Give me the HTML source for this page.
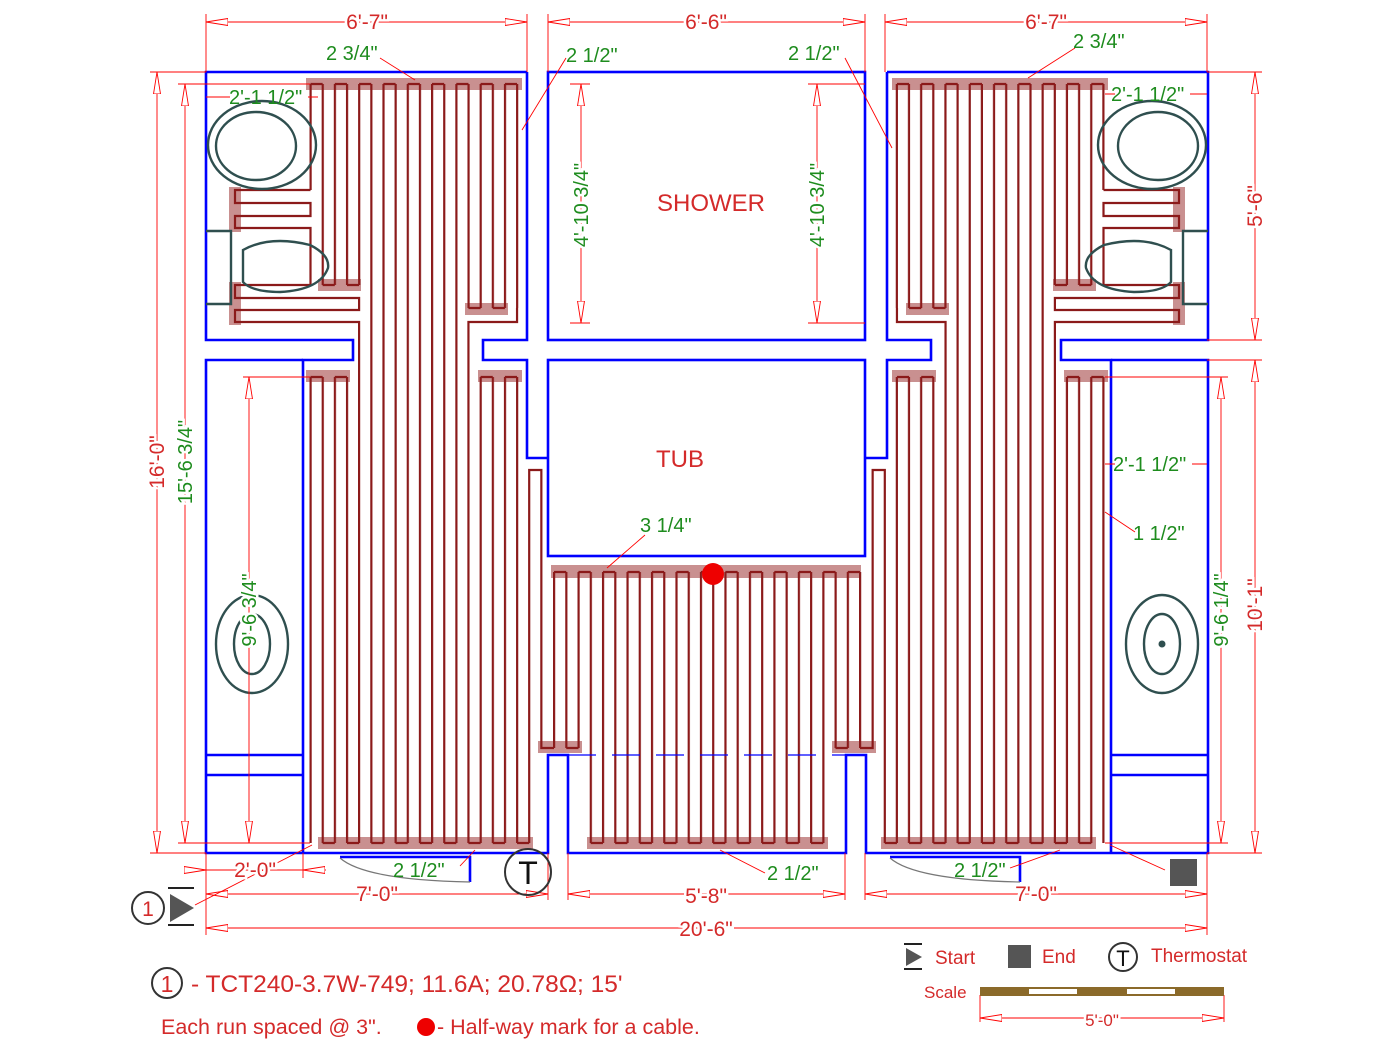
<!DOCTYPE html>
<html><head><meta charset="utf-8"><style>
html,body{margin:0;padding:0;background:#fff;width:1400px;height:1049px;overflow:hidden}
svg{display:block}
text{font-family:"Liberation Sans",sans-serif}
.r{fill:#d42a2a;font-size:21px}
.g{fill:#1e8c1e;font-size:20px}
.bg{stroke:#fff;stroke-width:5px;paint-order:stroke}
</style></head><body>
<svg width="1400" height="1049" viewBox="0 0 1400 1049" xmlns="http://www.w3.org/2000/svg">
<defs>
<marker id="a" viewBox="0 0 22 8" refX="22" refY="4" markerWidth="22" markerHeight="8" markerUnits="userSpaceOnUse" orient="auto-start-reverse"><path d="M22,4 L0,0.5 L0,7.5 Z" fill="#fff" stroke="#f00" stroke-width="0.9"/></marker>
<pattern id="pL" x="309.5" y="0" width="12.15" height="10" patternUnits="userSpaceOnUse"><rect x="0" y="0" width="2.2" height="10" fill="#8b1a1a"/></pattern>
<pattern id="pC" x="553" y="0" width="12.24" height="10" patternUnits="userSpaceOnUse"><rect x="0" y="0" width="2.2" height="10" fill="#8b1a1a"/></pattern>
</defs>
<g id="half">
 <g fill="#c99090">
  <rect x="306" y="78" width="216" height="12"/>
  <rect x="229" y="187" width="12" height="45"/>
  <rect x="229" y="282" width="12" height="43"/>
  <rect x="318" y="279" width="43" height="12"/>
  <rect x="465" y="303" width="43" height="12"/>
  <rect x="306" y="370" width="44" height="12"/>
  <rect x="478" y="370" width="44" height="12"/>
  <rect x="318" y="837" width="215" height="12"/>
  <rect x="538" y="741" width="44" height="12"/>
 </g>
 <g fill="url(#pL)">
  <rect x="309" y="84" width="212" height="106"/>
  <rect x="320" y="190" width="201" height="95"/>
  <rect x="369" y="285" width="152" height="23"/>
  <rect x="369" y="308" width="90" height="535"/>
  <rect x="309" y="377" width="40" height="466"/>
  <rect x="479" y="377" width="42" height="466"/>
 </g>
 <g fill="none" stroke="#8b1a1a" stroke-width="2.2">
  <path d="M310.5,84 H517.05" stroke-dasharray="12.15 12.15"/>
  <path d="M322.65,285 H334.8 M346.95,285 H359.1 M468.45,308 H480.6 M492.75,308 H504.9"/>
  <path d="M310.5,190 H235 V203 H310.5 V216 H235 V228 H310.5 V285 H235 V298 H359.1 V310 H235 V322 H359.1 V843"/>
  <path d="M517.05,308 V322 H468.45 V843"/>
  <path d="M310.5,377 H322.65 M334.8,377 H346.95 M480.6,377 H492.75 M504.9,377 H517.05"/>
  <path d="M529.2,843 V470 H541.35 V748 H554"/>
  <path d="M322.65,843 H529.2" stroke-dasharray="12.15 12.15"/>
 </g>
 <g fill="none" stroke="#0000ff" stroke-width="2.6">
  <path d="M527,72 H206 V340 H353 V360 H303 V853"/>
  <path d="M303,360 H206 V853 H548 V755 H568 V853 H707"/>
  <path d="M206,755 H303 M206,775 H303"/>
  <path d="M527,72 V340 H483 V360 H527 V458 H548"/>
 </g>
 <g fill="none" stroke="#2f4f4f" stroke-width="2.4">
  <ellipse cx="262" cy="145" rx="54" ry="44"/>
  <ellipse cx="256" cy="146" rx="40" ry="34"/>
  <path d="M206,231 H231 V304 H206"/>
  <path d="M243,250 Q270,235 310,245 Q330,255 328,268 Q320,290 280,292 Q252,292 243,282 Z"/>
  <ellipse cx="252" cy="644" rx="36" ry="49"/>
  <ellipse cx="252" cy="644" rx="18" ry="30"/>
 </g>
 <circle cx="252" cy="644" r="3.5" fill="#2f4f4f"/>
</g>
<use href="#half" transform="matrix(-1 0 0 1 1414 0)"/>

<g fill="#c99090">
 <rect x="551" y="565" width="310" height="13"/>
 <rect x="587" y="837" width="241" height="12"/>
</g>
<g fill="url(#pC)">
 <rect x="552" y="572" width="310" height="176"/>
 <rect x="588" y="748" width="237" height="95"/>
</g>
<g fill="none" stroke="#8b1a1a" stroke-width="2.2">
 <path d="M554,572 H860" stroke-dasharray="12.24 12.24"/>
 <path d="M566.24,748 H578.5 M835.5,748 H847.8"/>
 <path d="M590.7,843 H823.3" stroke-dasharray="12.24 12.24"/>
</g>
<g fill="none" stroke="#0000ff" stroke-width="2.6">
 <rect x="548" y="72" width="317" height="268"/>
 <rect x="548" y="360" width="317" height="196"/>
 <path d="M568,755 H845" stroke-dasharray="28 16" stroke-width="1.2"/>
 <path d="M340,857 H470 V882 M890,857 H1020 V882"/>
</g>
<path d="M340,858 Q365,880 470,882 M890,858 Q915,880 1020,882" fill="none" stroke="#777" stroke-width="1.2"/>
<circle cx="713" cy="574" r="11" fill="#ee0000"/>
<text x="711" y="211" class="r" style="font-size:24px" text-anchor="middle">SHOWER</text>
<text x="680" y="467" class="r" style="font-size:24px" text-anchor="middle">TUB</text>

<g stroke="#f00" stroke-width="0.9" fill="none">
 <path d="M206,14 V72 M527,14 V72 M548,14 V72 M865,14 V72 M885,14 V72 M1207,14 V72"/>
 <path d="M150,72 H206 M150,853 H206 M178,84 H310 M178,843 H310 M243,377 H310 M243,843 H310"/>
 <path d="M1207,72 H1262 M1207,340 H1262 M1207,360 H1262 M1207,853 H1262 M1105,377 H1228 M1105,843 H1228"/>
 <path d="M570,84 H590 M570,323 H590 M808,84 H865 M808,323 H865"/>
 <path d="M206,853 V935 M303,853 V878 M548,853 V900 M568,853 V900 M845,853 V900 M865,853 V900 M1207,853 V935"/>
 <path d="M206,22 H527" marker-start="url(#a)" marker-end="url(#a)"/>
 <path d="M548,22 H865" marker-start="url(#a)" marker-end="url(#a)"/>
 <path d="M885,22 H1207" marker-start="url(#a)" marker-end="url(#a)"/>
 <path d="M157,72 V853" marker-start="url(#a)" marker-end="url(#a)"/>
 <path d="M185,84 V843" marker-start="url(#a)" marker-end="url(#a)"/>
 <path d="M249,377 V843" marker-start="url(#a)" marker-end="url(#a)"/>
 <path d="M581,84 V323" marker-start="url(#a)" marker-end="url(#a)"/>
 <path d="M817,84 V323" marker-start="url(#a)" marker-end="url(#a)"/>
 <path d="M1255,72 V340" marker-start="url(#a)" marker-end="url(#a)"/>
 <path d="M1255,360 V853" marker-start="url(#a)" marker-end="url(#a)"/>
 <path d="M1221,377 V843" marker-start="url(#a)" marker-end="url(#a)"/>
 <path d="M184,870 H206" marker-end="url(#a)"/>
 <path d="M326,870 H303" marker-end="url(#a)"/>
 <path d="M206,870 H303"/>
 <path d="M206,894 H548" marker-start="url(#a)" marker-end="url(#a)"/>
 <path d="M568,894 H845" marker-start="url(#a)" marker-end="url(#a)"/>
 <path d="M865,894 H1207" marker-start="url(#a)" marker-end="url(#a)"/>
 <path d="M206,928 H1207" marker-start="url(#a)" marker-end="url(#a)"/>
 <path d="M980,995 V1022 M1224,995 V1022"/>
 <path d="M980,1018 H1224" marker-start="url(#a)" marker-end="url(#a)"/>
 <path d="M380,58 L415,80 M566,58 L522,130 M845,58 L892,148 M1075,48 L1028,78 M645,535 L607,568 M1135,532 L1105,512 M460,866 L475,850 M765,873 L720,850 M1010,868 L1060,850"/>
 <path d="M206,97 H230 M308,97 H318 M1105,94 H1115 M1190,94 H1207 M1105,464 H1115 M1192,464 H1207"/>
 <path d="M195,905 L312,845 M1165,870 L1110,845"/>
</g>
<g text-anchor="middle">
 <text x="367" y="29" class="r bg">6'-7"</text>
 <text x="706" y="29" class="r bg">6'-6"</text>
 <text x="1046" y="29" class="r bg">6'-7"</text>
 <text x="255" y="877" class="r bg">2'-0"</text>
 <text x="377" y="901" class="r bg">7'-0"</text>
 <text x="706" y="903" class="r bg">5'-8"</text>
 <text x="1036" y="901" class="r bg">7'-0"</text>
 <text x="706" y="936" class="r bg">20'-6"</text>
 <text x="1102" y="1026" class="r bg" style="font-size:17px">5'-0"</text>
 <text transform="translate(164,462) rotate(-90)" class="r bg">16'-0"</text>
 <text transform="translate(1262,206) rotate(-90)" class="r bg">5'-6"</text>
 <text transform="translate(1262,605) rotate(-90)" class="r bg">10'-1"</text>
 <text transform="translate(192,462) rotate(-90)" class="g bg">15'-6 3/4"</text>
 <text transform="translate(256,610) rotate(-90)" class="g bg">9'-6 3/4"</text>
 <text transform="translate(1228,610) rotate(-90)" class="g bg">9'-6 1/4"</text>
 <text transform="translate(588,205) rotate(-90)" class="g bg">4'-10 3/4"</text>
 <text transform="translate(824,205) rotate(-90)" class="g bg">4'-10 3/4"</text>
</g>
<g>
 <text x="326" y="60" class="g">2 3/4"</text>
 <text x="566" y="62" class="g">2 1/2"</text>
 <text x="788" y="60" class="g">2 1/2"</text>
 <text x="1073" y="48" class="g">2 3/4"</text>
 <text x="229" y="104" class="g">2'-1 1/2"</text>
 <text x="1111" y="101" class="g">2'-1 1/2"</text>
 <text x="1113" y="471" class="g">2'-1 1/2"</text>
 <text x="1133" y="540" class="g">1 1/2"</text>
 <text x="640" y="532" class="g">3 1/4"</text>
 <text x="393" y="877" class="g">2 1/2"</text>
 <text x="767" y="880" class="g">2 1/2"</text>
 <text x="954" y="877" class="g">2 1/2"</text>
</g>

<circle cx="148" cy="908" r="16" fill="#fff" stroke="#333" stroke-width="2"/>
<text x="148" y="916" class="r" text-anchor="middle">1</text>
<path d="M168,888 H194 M168,925 H194" stroke="#222" stroke-width="2"/>
<path d="M170,894 L194,908 L170,922 Z" fill="#555"/>
<circle cx="528" cy="872" r="23" fill="none" stroke="#333" stroke-width="2"/>
<text x="528" y="884" text-anchor="middle" style="font-size:32px;fill:#111">T</text>
<rect x="1170" y="859" width="27" height="27" fill="#555"/>

<path d="M904,944 H922 M904,969 H922" stroke="#222" stroke-width="2"/>
<path d="M906,948 L922,957 L906,966 Z" fill="#555"/>
<text x="935" y="964" class="r" style="font-size:19px">Start</text>
<rect x="1008" y="945" width="23" height="23" fill="#555"/>
<text x="1042" y="963" class="r" style="font-size:19px">End</text>
<circle cx="1123" cy="957" r="14" fill="none" stroke="#333" stroke-width="2"/>
<text x="1123" y="966" text-anchor="middle" style="font-size:22px;fill:#111">T</text>
<text x="1151" y="962" class="r" style="font-size:19px">Thermostat</text>
<text x="924" y="998" class="r" style="font-size:17px">Scale</text>
<rect x="980" y="987" width="244" height="9" fill="#8b6a2a"/>
<rect x="1029" y="989" width="48" height="5" fill="#fff"/>
<rect x="1127" y="989" width="48" height="5" fill="#fff"/>

<circle cx="167" cy="983" r="15" fill="none" stroke="#333" stroke-width="2"/>
<text x="167" y="992" class="r" style="font-size:23px" text-anchor="middle">1</text>
<text x="191" y="992" class="r" style="font-size:24.5px">- TCT240-3.7W-749; 11.6A; 20.78Ω; 15'</text>
<text x="161" y="1034" class="r" style="font-size:21.5px">Each run spaced @ 3".</text>
<circle cx="426" cy="1027" r="9" fill="#ee0000"/>
<text x="437" y="1034" class="r" style="font-size:21.5px">- Half-way mark for a cable.</text>
</svg>
</body></html>
